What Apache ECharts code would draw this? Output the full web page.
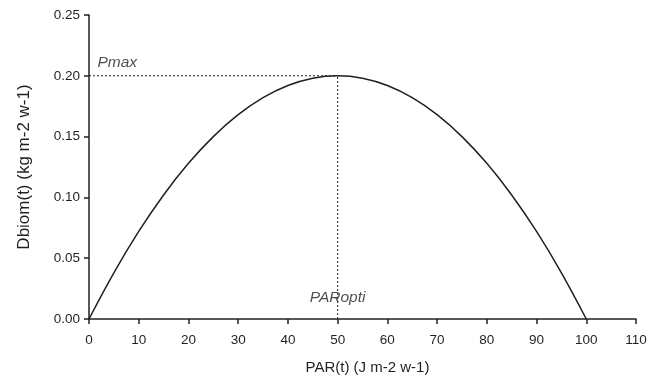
<!DOCTYPE html>
<html><head><meta charset="utf-8">
<script src="https://cdn.jsdelivr.net/npm/echarts@6/dist/echarts.min.js"></script>
<style>html,body{margin:0;padding:0;background:#fff}#c{width:661px;height:380px}</style>
</head><body><div id="c"></div>
<script>
const parValues = [0,5,10,15,20,25,30,35,40,45,50,55,60,65,70,75,80,85,90,95,100];
const dbiomValues = [0,0.038,0.072,0.102,0.128,0.150,0.168,0.182,0.192,0.198,0.200,0.198,0.192,0.182,0.168,0.150,0.128,0.102,0.072,0.038,0];
const pmaxValue = 0.20;
const paroptiValue = 50;
const xTicks = [0,10,20,30,40,50,60,70,80,90,100,110];
const yTicks = [0.00,0.05,0.10,0.15,0.20,0.25];

const font = 'Liberation Sans, Arial, sans-serif';
const chart = echarts.init(document.getElementById('c'), null, {renderer:'canvas'});
const axisCommon = {
  axisLine:{show:true,onZero:false,lineStyle:{color:'#231f20',width:1.5}},
  axisTick:{show:true,length:5,lineStyle:{color:'#231f20',width:1.5}},
  splitLine:{show:false},
  axisLabel:{color:'#231f20',fontSize:13.5,fontFamily:font},
  nameTextStyle:{color:'#231f20',fontSize:15,fontFamily:font}
};
chart.setOption({
  animation:false,
  grid:{left:89,right:25,top:15,bottom:60},
  xAxis:Object.assign({type:'value',min:xTicks[0],max:xTicks[xTicks.length-1],interval:10,
    name:'PAR(t) (J m-2 w-1)',nameLocation:'middle',nameGap:41},axisCommon,
    {axisLabel:Object.assign({},axisCommon.axisLabel,{margin:14}),
     nameTextStyle:{color:'#231f20',fontSize:15,fontFamily:font,padding:[0,0,0,10]}}),
  yAxis:Object.assign({type:'value',min:yTicks[0],max:yTicks[yTicks.length-1],interval:0.05,
    name:'Dbiom(t) (kg m-2 w-1)',nameLocation:'middle',nameGap:56},axisCommon,
    {axisLabel:Object.assign({},axisCommon.axisLabel,{margin:9,formatter:v=>v.toFixed(2)}),
     nameTextStyle:{color:'#231f20',fontSize:17,fontFamily:font}}),
  series:[
    {type:'line',data:parValues.map((x,i)=>[x,dbiomValues[i]]),smooth:0.4,showSymbol:false,
     lineStyle:{color:'#231f20',width:1.5},z:3},
    {type:'line',data:[[0,pmaxValue],[paroptiValue,pmaxValue]],showSymbol:false,
     lineStyle:{color:'#231f20',width:1,type:[2,2]}},
    {type:'line',data:[[paroptiValue,0],[paroptiValue,pmaxValue]],showSymbol:false,
     lineStyle:{color:'#231f20',width:1,type:[2,2]}},
    {type:'scatter',symbolSize:0,data:[[1.7,pmaxValue]],
     label:{show:true,position:'right',offset:[0,-13],formatter:'Pmax',color:'#231f20',fontSize:15.5,fontStyle:'italic',fontFamily:font,distance:0}},
    {type:'scatter',symbolSize:0,data:[[paroptiValue,0.0172]],
     label:{show:true,position:'inside',formatter:'PARopti',color:'#231f20',fontSize:15.5,fontStyle:'italic',fontFamily:font}}
  ]
});
</script></body></html>
